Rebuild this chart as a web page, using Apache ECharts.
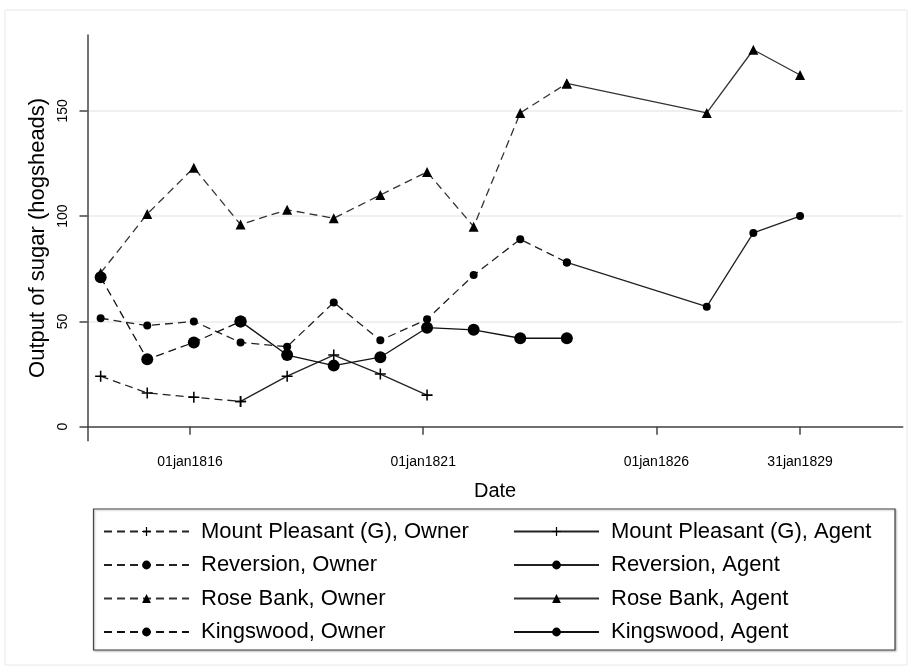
<!DOCTYPE html>
<html>
<head>
<meta charset="utf-8">
<script src="https://cdn.jsdelivr.net/npm/echarts@6/dist/echarts.min.js"></script>
<style>html,body{margin:0;padding:0;background:#fff;}#c{width:912px;height:672px;}</style>
</head>
<body>
<div id="c"></div>
<script>
// ---- data ----
var dates = ['1814-01-31','1815-01-31','1816-01-31','1817-01-31','1818-01-31','1819-01-31','1820-01-31',
             '1821-01-31','1822-01-31','1823-01-31','1824-01-31','1827-01-31','1828-01-31','1829-01-31'];
var mpOwner  = [24, 16, 14, 12, null, null, null, null, null, null, null, null, null, null];
var mpAgent  = [null, null, null, 12, 24, 34, 25, 15, null, null, null, null, null, null];
var revOwner = [51.5, 48, 50, 40, 38, 59, 41, 51, 72, 89, 78, null, null, null];
var revAgent = [null, null, null, null, null, null, null, null, null, null, 78, 57, 92, 100];
var rbOwner  = [73, 101, 123, 96, 103, 99, 110, 121, 95, 149, 163, null, null, null];
var rbAgent  = [null, null, null, null, null, null, null, null, null, null, 163, 149, 179, 167];
var kwOwner  = [71, 32, 40, 50, null, null, null, null, null, null, null, null, null, null];
var kwAgent  = [null, null, null, 50, 34, 29, 33, 47, 46, 42, 42, null, null, null];
var xTickDates = ['1816-01-01','1821-01-01','1826-01-01','1829-01-31'];
var yTicks = [0, 50, 100, 150];
var seriesNames = ['Mount Pleasant (G), Owner','Mount Pleasant (G), Agent','Reversion, Owner','Reversion, Agent',
                   'Rose Bank, Owner','Rose Bank, Agent','Kingswood, Owner','Kingswood, Agent'];

function ts(s){ var p = s.split('-'); return Date.UTC(+p[0], +p[1]-1, +p[2]); }
var months = ['jan','feb','mar','apr','may','jun','jul','aug','sep','oct','nov','dec'];
function fmt(v){ var d = new Date(v); var dd = d.getUTCDate(); return (dd<10?'0':'')+dd+months[d.getUTCMonth()]+d.getUTCFullYear(); }
function pairs(arr){ return dates.map(function(d,i){ return [ts(d), arr[i]]; }); }

var plusPath = 'path://M4.3,0H5.7V4.3H10V5.7H5.7V10H4.3V5.7H0V4.3H4.3Z';
var FONT = 'Liberation Sans';

function mk(name, data, dashed, symbol, size, color){
  return {
    name: name, type: 'line', data: pairs(data), connectNulls: false,
    symbol: symbol, symbolSize: size, showSymbol: true,
    lineStyle: {color: color, width: 1.3, type: dashed ? [8,5] : 'solid'},
    itemStyle: {color: '#000'},
    emphasis: {disabled: true}, animation: false
  };
}

var chart = echarts.init(document.getElementById('c'), null, {renderer: 'canvas'});
var legendCommon = {
  orient: 'vertical', padding: 0, itemWidth: 85, itemHeight: 11, itemGap: 11.5,
  textStyle: {fontFamily: FONT, fontSize: 22, color: '#000', lineHeight: 21, padding: [0,0,0,7]}
};
chart.setOption({
  backgroundColor: '#fff',
  animation: false,
  textStyle: {fontFamily: FONT},
  grid: {left: 87.5, right: 9.3, top: 35, bottom: 231.3, containLabel: false},
  graphic: [
    {type: 'rect', shape: {x: 5, y: 10, width: 902, height: 655}, style: {fill: 'none', stroke: '#e8e8e8', lineWidth: 1}, silent: true, z: -10},
    {type: 'rect', shape: {x: 93.5, y: 509, width: 801.5, height: 141}, style: {fill: '#fff', stroke: '#444', lineWidth: 1.2, shadowColor: 'rgba(0,0,0,0.25)', shadowBlur: 2, shadowOffsetX: 1, shadowOffsetY: 1}, silent: true, z: -5}
  ],
  legend: [
    Object.assign({left: 103, top: 520.5, data: [seriesNames[0], seriesNames[2], seriesNames[4], seriesNames[6]]}, legendCommon),
    Object.assign({left: 513, top: 520.5, data: [seriesNames[1], seriesNames[3], seriesNames[5], seriesNames[7]]}, legendCommon)
  ],
  xAxis: {
    type: 'value', min: ts('1813-10-20'), max: ts('1831-04-15'),
    name: 'Date', nameLocation: 'middle', nameGap: 41,
    nameTextStyle: {fontFamily: FONT, fontSize: 20, color: '#000'},
    axisLine: {show: true, lineStyle: {color: '#444', width: 1.5}},
    axisTick: {show: true, length: 8, lineStyle: {color: '#444', width: 1.5}, customValues: xTickDates.map(ts)},
    axisLabel: {customValues: xTickDates.map(ts), formatter: fmt, fontFamily: FONT, fontSize: 14, color: '#000', margin: 14},
    splitLine: {show: false}
  },
  yAxis: {
    type: 'value', min: -6.65, max: 186,
    name: 'Output of sugar (hogsheads)', nameLocation: 'middle', nameGap: 34,
    nameTextStyle: {fontFamily: FONT, fontSize: 22, color: '#000'},
    axisLine: {show: true, lineStyle: {color: '#444', width: 1.5}},
    axisTick: {show: true, length: 8, lineStyle: {color: '#444', width: 1.5}, customValues: yTicks},
    axisLabel: {customValues: yTicks, rotate: 90, fontFamily: FONT, fontSize: 14, color: '#000', margin: 17},
    splitLine: {show: true, lineStyle: {color: '#ebebeb', width: 1.5}}
  },
  series: [
    mk(seriesNames[0], mpOwner, true, plusPath, 11, '#222'),
    mk(seriesNames[1], mpAgent, false, plusPath, 11, '#222'),
    mk(seriesNames[2], revOwner, true, 'circle', 8, '#222'),
    mk(seriesNames[3], revAgent, false, 'circle', 8, '#222'),
    mk(seriesNames[4], rbOwner, true, 'triangle', 10, '#333'),
    mk(seriesNames[5], rbAgent, false, 'triangle', 10, '#333'),
    mk(seriesNames[6], kwOwner, true, 'circle', 12, '#111'),
    mk(seriesNames[7], kwAgent, false, 'circle', 12, '#111')
  ]
});
</script>
</body>
</html>
